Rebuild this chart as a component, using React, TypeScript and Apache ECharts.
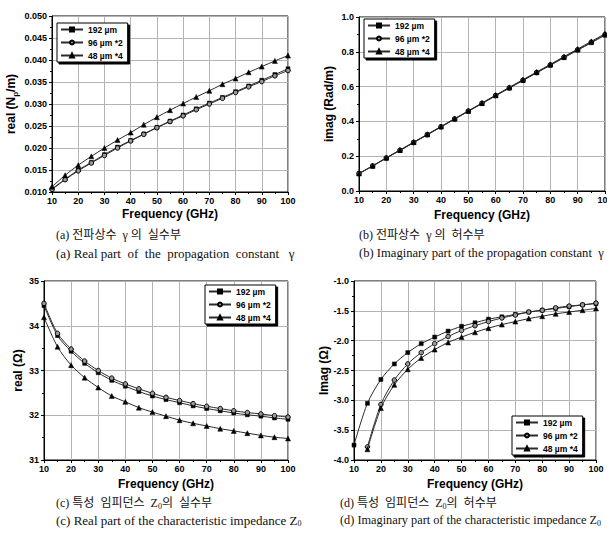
import React, { useEffect, useRef } from "react";
import * as echarts from "echarts";

const freq = [10, 15, 20, 25, 30, 35, 40, 45, 50, 55, 60, 65, 70, 75, 80, 85, 90, 95, 100];
const seriesNames = ["192 µm", "96 µm *2", "48 µm *4"];

// (a) real part of propagation constant (Np/m)
const a192 = [0.0107, 0.0129, 0.0150, 0.0167, 0.0185, 0.0202, 0.0217, 0.0232, 0.0247, 0.0261, 0.0275, 0.0289, 0.0302, 0.0315, 0.0328, 0.0341, 0.0354, 0.0367, 0.0380];
const a96 = [0.0106, 0.0128, 0.0148, 0.0166, 0.0183, 0.0200, 0.0216, 0.0231, 0.0246, 0.0260, 0.0273, 0.0287, 0.0300, 0.0313, 0.0326, 0.0339, 0.0351, 0.0364, 0.0376];
const a48 = [0.0112, 0.0138, 0.0161, 0.0181, 0.0200, 0.0218, 0.0235, 0.0253, 0.0270, 0.0286, 0.0301, 0.0316, 0.0330, 0.0345, 0.0358, 0.0372, 0.0385, 0.0398, 0.0410];

// (b) imaginary part of propagation constant (Rad/m)
const b192 = [0.100, 0.143, 0.189, 0.233, 0.278, 0.323, 0.368, 0.413, 0.458, 0.502, 0.547, 0.591, 0.635, 0.679, 0.722, 0.766, 0.809, 0.852, 0.895];
const b96 = [0.100, 0.144, 0.190, 0.234, 0.279, 0.324, 0.369, 0.414, 0.459, 0.504, 0.549, 0.593, 0.637, 0.681, 0.725, 0.769, 0.812, 0.855, 0.899];
const b48 = [0.101, 0.145, 0.191, 0.236, 0.281, 0.326, 0.371, 0.416, 0.461, 0.506, 0.551, 0.596, 0.640, 0.684, 0.728, 0.772, 0.816, 0.860, 0.904];

// (c) real part of characteristic impedance (Ohm)
const c192 = [34.45, 33.78, 33.43, 33.16, 32.95, 32.78, 32.65, 32.53, 32.43, 32.35, 32.28, 32.21, 32.15, 32.10, 32.05, 32.01, 31.98, 31.94, 31.91];
const c96 = [34.50, 33.83, 33.48, 33.21, 33.00, 32.83, 32.70, 32.59, 32.49, 32.40, 32.33, 32.26, 32.20, 32.15, 32.10, 32.06, 32.03, 31.99, 31.96];
const c48 = [34.19, 33.53, 33.12, 32.84, 32.62, 32.43, 32.30, 32.17, 32.07, 31.98, 31.89, 31.82, 31.76, 31.70, 31.65, 31.60, 31.55, 31.51, 31.48];

// (d) imaginary part of characteristic impedance (Ohm)
const d192 = [-3.75, -3.05, -2.65, -2.39, -2.20, -2.05, -1.94, -1.84, -1.76, -1.70, -1.64, -1.60, -1.56, -1.52, -1.49, -1.46, -1.43, -1.40, -1.38];
const d96 = [null, -3.78, -3.07, -2.66, -2.39, -2.20, -2.05, -1.93, -1.83, -1.75, -1.68, -1.62, -1.57, -1.52, -1.49, -1.45, -1.42, -1.40, -1.37];
const d48 = [null, -3.82, -3.13, -2.74, -2.48, -2.29, -2.15, -2.03, -1.94, -1.86, -1.79, -1.73, -1.68, -1.63, -1.59, -1.55, -1.52, -1.49, -1.46];

const xTicks = { min: 10, max: 100, interval: 10 };
const yA = { min: 0.01, max: 0.05, interval: 0.005 };
const yB = { min: 0, max: 1.0, interval: 0.2 };
const yC = { min: 31, max: 35, interval: 1 };
const yD = { min: -4.0, max: -1.0, interval: 0.5 };

const FONT = "'Liberation Sans', Arial, sans-serif";
const SERIF = "'Liberation Serif', 'Noto Sans CJK KR', serif";

function pairs(vals: (number | null)[]) {
  const out: number[][] = [];
  vals.forEach((v, i) => {
    if (v !== null) out.push([freq[i], v]);
  });
  return out;
}

export default function App() {
  const ref = useRef<HTMLDivElement>(null);
  useEffect(() => {
    if (!ref.current) return;
    const chart = echarts.init(ref.current, undefined, { renderer: "svg" });

    const grids = [
      { left: 52, top: 16, width: 236, height: 176 },
      { left: 359, top: 17, width: 246, height: 174 },
      { left: 44, top: 281, width: 244, height: 179 },
      { left: 354, top: 281, width: 242, height: 179 },
    ].map((g) => ({
      ...g,
      show: true,
      borderColor: "#000",
      borderWidth: 1,
      backgroundColor: "#fff",
      containLabel: false,
      outerBoundsMode: "none",
    }));

    const axisCommon = {
      axisLine: { show: true, lineStyle: { color: "#000", width: 1 } },
      axisTick: { show: true, length: 3, lineStyle: { color: "#000" } },
      minorTick: { show: true, splitNumber: 2, length: 2, lineStyle: { color: "#000" } },
      splitLine: { show: true, lineStyle: { color: "#b4b4b4", width: 1 } },
      axisLabel: { color: "#000", fontFamily: FONT, fontWeight: "bold", fontSize: 9 },
      nameTextStyle: { color: "#000", fontFamily: FONT, fontWeight: "bold", fontSize: 12 },
    };

    const xAxisFor = (i: number, gap: number) => ({
      ...axisCommon,
      type: "value",
      gridIndex: i,
      ...xTicks,
      name: "Frequency (GHz)",
      nameLocation: "middle",
      nameGap: gap,
      axisLabel: { ...axisCommon.axisLabel, margin: 4, formatter: (v: number) => String(v) },
    });

    const yAxisFor = (i: number, range: any, name: string, gap: number, dec: number, rich?: any) => ({
      ...axisCommon,
      type: "value",
      gridIndex: i,
      ...range,
      name,
      nameLocation: "middle",
      nameRotate: 90,
      nameGap: gap,
      nameTextStyle: rich ? { ...axisCommon.nameTextStyle, rich } : axisCommon.nameTextStyle,
      axisLabel: { ...axisCommon.axisLabel, margin: 5, formatter: (v: number) => v.toFixed(dec) },
    });

    const subRich = {
      sub: { fontFamily: FONT, fontWeight: "bold", fontSize: 8, color: "#000", verticalAlign: "bottom", padding: [8, 0, 0, 0] },
    };

    const symbols = [
      { symbol: "rect", symbolSize: 4, itemStyle: { color: "#000", borderColor: "#000", borderWidth: 0.5 } },
      { symbol: "circle", symbolSize: 4.5, itemStyle: { color: "#9a9a9a", borderColor: "#000", borderWidth: 1 } },
      { symbol: "triangle", symbolSize: 5, itemStyle: { color: "#000", borderColor: "#000", borderWidth: 0.5 } },
    ];

    const sets = [
      [a192, a96, a48],
      [b192, b96, b48],
      [c192, c96, c48],
      [d192, d96, d48],
    ];

    const series: any[] = [];
    sets.forEach((set, gi) => {
      set.forEach((vals, si) => {
        series.push({
          type: "line",
          name: seriesNames[si],
          xAxisIndex: gi,
          yAxisIndex: gi,
          data: pairs(vals as (number | null)[]),
          ...symbols[si],
          showSymbol: true,
          smooth: 0.3,
          lineStyle: { color: "#2a2a2a", width: 1 },
          emphasis: { disabled: true },
          z: 3 + si,
        });
      });
    });

    const legendFor = (left: number, top: number) => ({
      orient: "vertical",
      left,
      top,
      data: seriesNames,
      itemWidth: 22,
      itemHeight: 5,
      itemGap: 4,
      padding: [2, 5, 2, 3],
      backgroundColor: "#fff",
      borderColor: "#000",
      borderWidth: 1,
      shadowColor: "#000",
      shadowOffsetX: 2,
      shadowOffsetY: 2,
      shadowBlur: 0,
      selectedMode: false,
      textStyle: { color: "#000", fontFamily: FONT, fontWeight: "bold", fontSize: 8.5 },
    });

    const caption = (x: number, y: number, text: string, size = 12) => ({
      type: "text",
      x,
      y,
      style: {
        text,
        fill: "#111",
        font: `${size}px ${SERIF}`,
        verticalAlign: "middle",
        rich: {
          s: { fontFamily: SERIF, fontSize: 8, fill: "#111", verticalAlign: "bottom", padding: [7, 0, 0, 0] },
        },
      },
    });

    chart.setOption({
      animation: false,
      backgroundColor: "#fff",
      grid: grids,
      xAxis: [xAxisFor(0, 16), xAxisFor(1, 18), xAxisFor(2, 18), xAxisFor(3, 18)],
      yAxis: [
        yAxisFor(0, yA, "real (N{sub|p}/m)", 33, 3, subRich),
        yAxisFor(1, yB, "imag (Rad/m)", 24, 1),
        yAxisFor(2, yC, "real (Ω)", 20, 0),
        yAxisFor(3, yD, "Imag (Ω)", 24, 1),
      ],
      legend: [legendFor(57, 23), legendFor(364, 19), legendFor(205, 285), legendFor(512, 416)],
      series,
      graphic: [
        caption(56, 235, "(a) 전파상수  γ 의  실수부"),
        caption(56, 253, "(a) Real part  of  the  propagation  constant   γ", 13),
        caption(359, 235, "(b) 전파상수  γ 의  허수부"),
        caption(359, 253, "(b) Imaginary part of the propagation constant  γ", 12.6),
        caption(56, 503, "(c) 특성  임피던스  Z{s|0}의  실수부"),
        caption(56, 520, "(c) Real part of the characteristic impedance Z{s|0}", 13),
        caption(340, 503, "(d) 특성  임피던스  Z{s|0}의  허수부"),
        caption(340, 520, "(d) Imaginary part of the characteristic impedance Z{s|0}", 12.3),
      ],
    });

    return () => chart.dispose();
  }, []);

  return <div ref={ref} style={{ position: "absolute", left: 0, top: 0, width: 607, height: 533 }} />;
}
